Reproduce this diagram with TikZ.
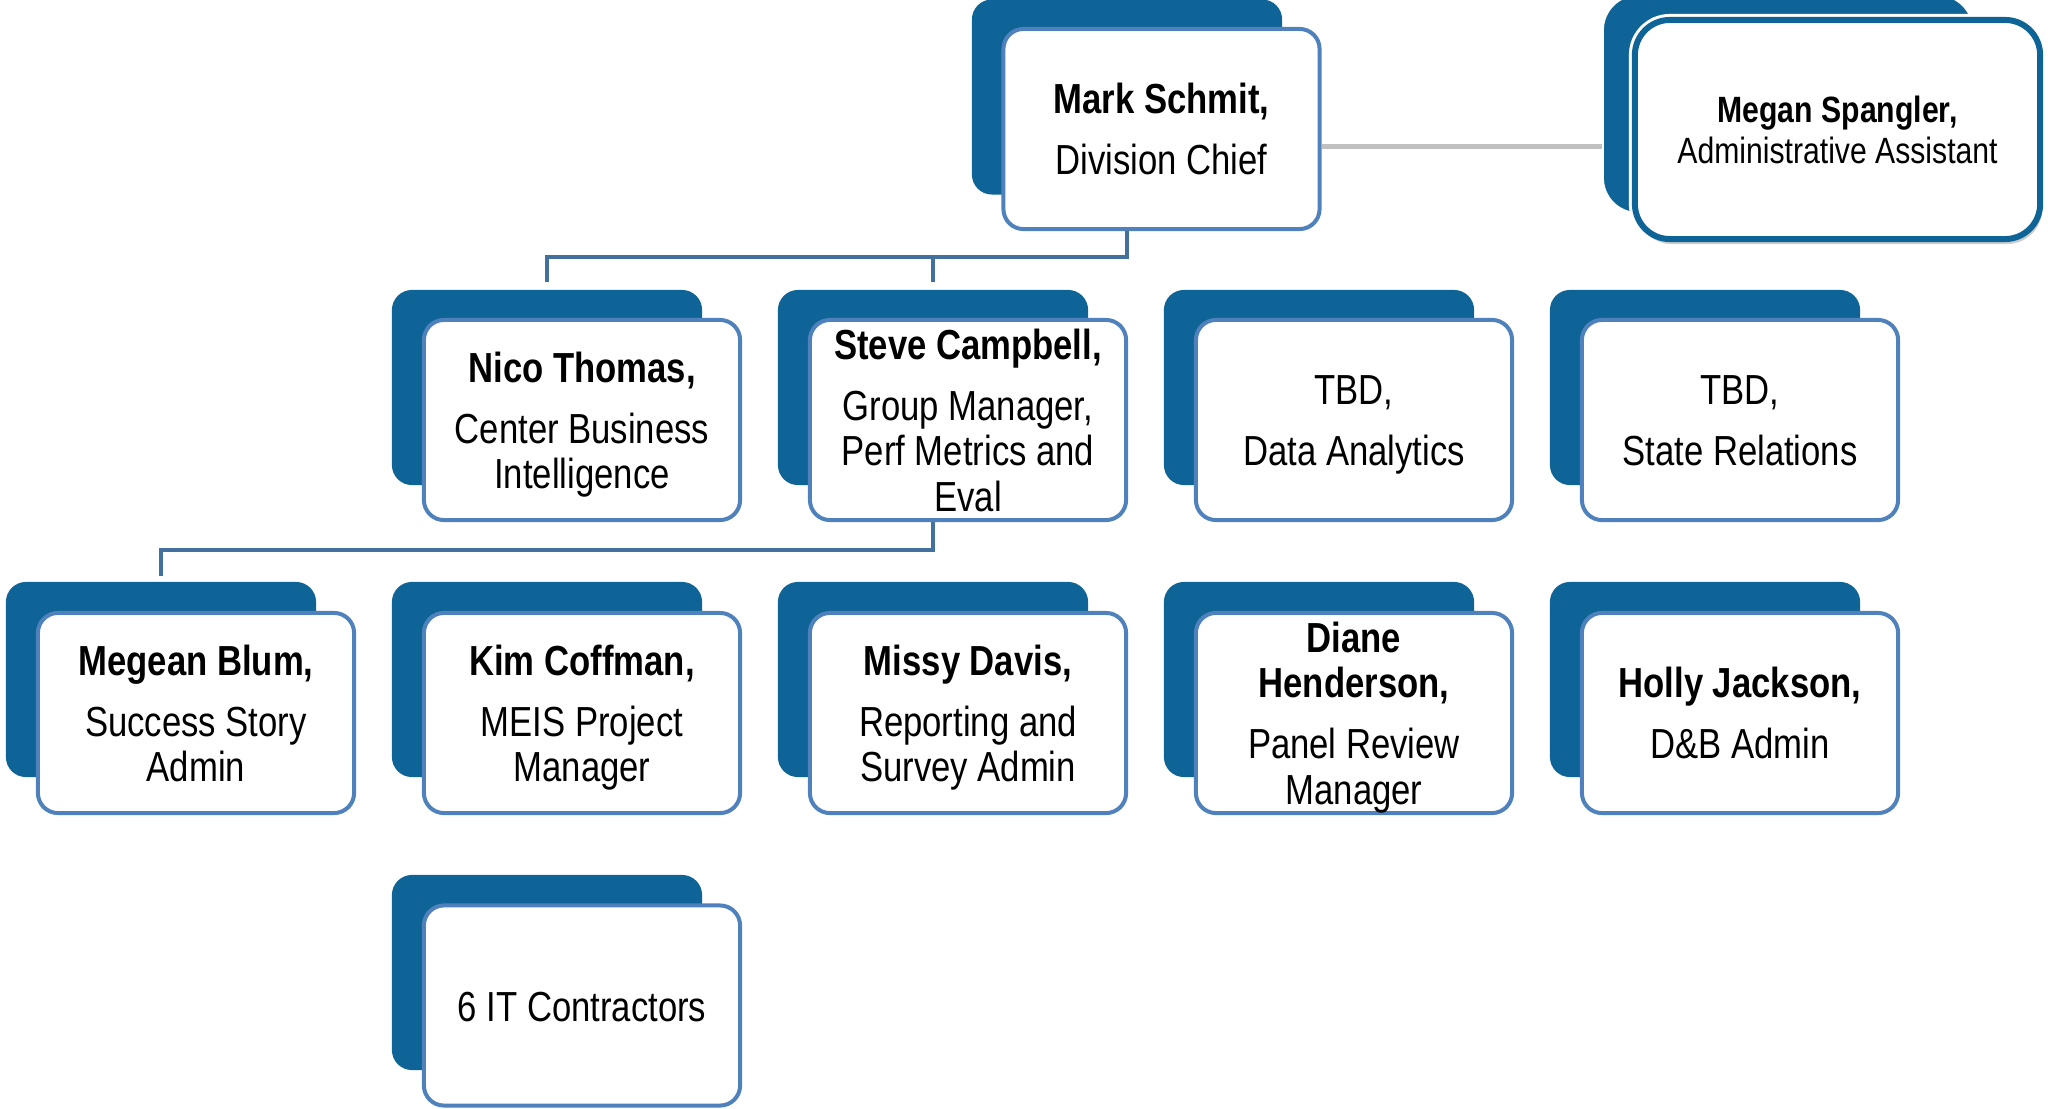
\documentclass[tikz,border=0pt]{standalone}
\usepackage{fontspec}
\setmainfont[FakeStretch=0.825]{Liberation Sans}
\usetikzlibrary{shadows}
\definecolor{darkb}{RGB}{14,100,150}
\definecolor{lightb}{RGB}{79,129,189}
\definecolor{connc}{RGB}{65,113,156}
\definecolor{grayl}{RGB}{192,192,192}
\newcommand{\mainsz}{\fontsize{11.95pt}{12.8pt}\selectfont}
\newcommand{\megsz}{\fontsize{10.4pt}{11.67pt}\selectfont}
\tikzset{
  back/.style={fill=darkb, rounded corners=0.2cm, minimum width=3.10cm, minimum height=1.95cm, inner sep=0pt},
  front/.style={fill=white, draw=lightb, line width=0.04cm, rounded corners=0.2cm, minimum width=3.16cm, minimum height=2.00cm, inner sep=0pt},
  txt/.style={align=center, font=\mainsz, inner sep=0pt, text=black, yshift=-0.07cm,
              execute at begin node=\strut, execute at end node=\strut},
  conn/.style={draw=connc, line width=0.04cm, line join=miter},
}
\begin{document}
\begin{tikzpicture}[x=0.01cm, y=-0.01cm]
\useasboundingbox (0,0) rectangle (2048,1109);

% gray link line
\coordinate (gl) at (1321,146);

% Megan Spangler
\node[fill=darkb, draw=white, line width=0.02cm, rounded corners=0.35cm, minimum width=3.70cm, minimum height=2.18cm, inner sep=0pt] (megB) at (1788,104) {};
% Mark Schmit
\node[back] (markB) at (1127,97) {};
\node[front] (mark) at (1161.5,129) {};
\node[txt] (markT) at (mark) {\textbf{Mark Schmit,}\\[0.16cm]Division Chief};

\draw[grayl, line width=0.05cm] (mark.east |- gl) -- (megB.west |- gl);

\node[fill=white, draw=darkb, line width=0.06cm, rounded corners=0.35cm, minimum width=4.05cm, minimum height=2.19cm, inner sep=0pt,
      preaction={draw=white, line width=0.12cm},
      drop shadow={shadow xshift=0.02cm, shadow yshift=-0.05cm, opacity=0.2, fill=black}] (meg) at (1837.5,129.5) {};
\node[align=center, font=\megsz, inner sep=0pt] (megT) at (meg) {\textbf{Megan Spangler,}\\Administrative Assistant};

% Row 2
\node[back] (nicoB) at (547,387.5) {};
\node[front] (nico) at (582,420) {};
\node[txt] (nicoT) at (nico) {\textbf{Nico Thomas,}\\[0.16cm]Center Business\\Intelligence};

\node[back] (steveB) at (933,387.5) {};
\node[front] (steve) at (968,420) {};
\node[txt] (steveT) at (steve) {\textbf{Steve Campbell,}\\[0.16cm]Group Manager,\\Perf Metrics and\\Eval};

\node[back] (daB) at (1319,387.5) {};
\node[front] (da) at (1354,420) {};
\node[txt] (daT) at (da) {TBD,\\[0.16cm]Data Analytics};

\node[back] (srB) at (1705,387.5) {};
\node[front] (sr) at (1740,420) {};
\node[txt] (srT) at (sr) {TBD,\\[0.16cm]State Relations};

% Row 3
\node[back] (blumB) at (161,679.5) {};
\node[front] (blum) at (196,713) {};
\node[txt] (blumT) at (blum) {\textbf{Megean Blum,}\\[0.16cm]Success Story\\Admin};

\node[back] (kimB) at (547,679.5) {};
\node[front] (kim) at (582,713) {};
\node[txt] (kimT) at (kim) {\textbf{Kim Coffman,}\\[0.16cm]MEIS Project\\Manager};

\node[back] (missyB) at (933,679.5) {};
\node[front] (missy) at (968,713) {};
\node[txt] (missyT) at (missy) {\textbf{Missy Davis,}\\[0.16cm]Reporting and\\Survey Admin};

\node[back] (dianeB) at (1319,679.5) {};
\node[front] (diane) at (1354,713) {};
\node[txt] (dianeT) at (diane) {\textbf{Diane}\\\textbf{Henderson,}\\[0.16cm]Panel Review\\Manager};

\node[back] (hollyB) at (1705,679.5) {};
\node[front] (holly) at (1740,713) {};
\node[txt] (hollyT) at (holly) {\textbf{Holly Jackson,}\\[0.16cm]D\&B Admin};

% Row 4
\node[back] (itB) at (547,972.5) {};
\node[front] (it) at (582,1005.5) {};
\node[txt] (itT) at (it) {6 IT Contractors};

% connectors
\coordinate (bus1) at (1127,257);
\coordinate (bus2) at (933,550);
\draw[conn] (markB.south |- mark.south) -- (markB.south |- bus1) -| ([yshift=0.07cm]nicoB.north);
\draw[conn] (markB.south |- bus1) -| ([yshift=0.07cm]steveB.north);
\draw[conn] (steveB.south |- steve.south) -- (steveB.south |- bus2) -| ([yshift=0.05cm]blumB.north);
\end{tikzpicture}
\end{document}
